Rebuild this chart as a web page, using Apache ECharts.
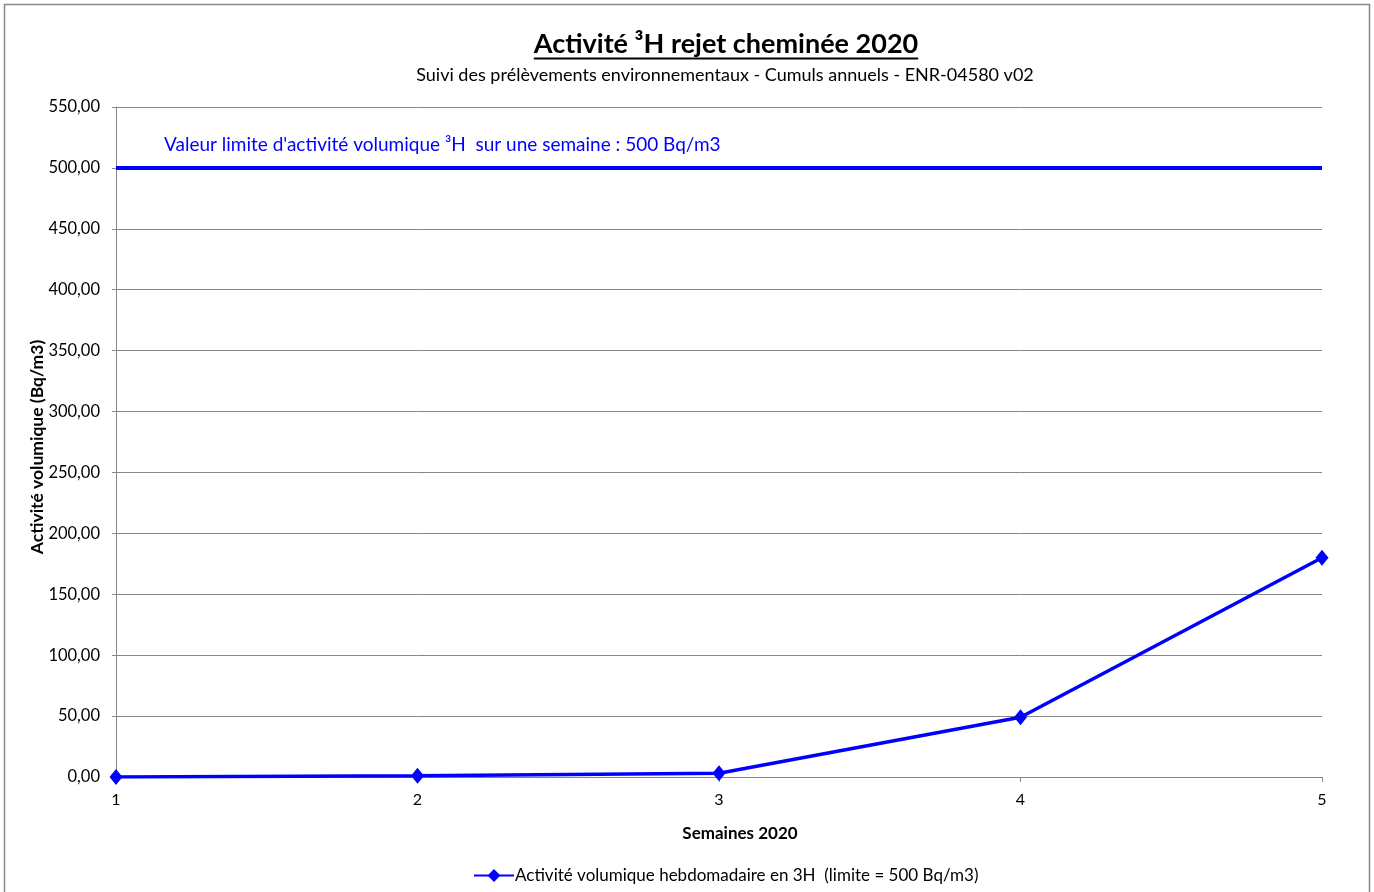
<!DOCTYPE html>
<html>
<head>
<meta charset="utf-8">
<script src="https://cdn.jsdelivr.net/npm/echarts@6/dist/echarts.min.js"></script>
<style>
html,body{margin:0;padding:0;background:#fff;}
#chart{width:1374px;height:892px;}
</style>
</head>
<body>
<div id="chart"></div>
<script>
// ---- data ----
const weeks = [1, 2, 3, 4, 5];
const activity = [0, 1, 3, 49, 180];
const limitValue = 500;
const seriesName = 'Activité volumique hebdomadaire en 3H  (limite = 500 Bq/m3)';
const titleText = 'Activité ³H rejet cheminée 2020';
const subtitleText = 'Suivi des prélèvements environnementaux - Cumuls annuels - ENR-04580 v02';
const limitLabel = "Valeur limite d'activité volumique ³H  sur une semaine : 500 Bq/m3";
const yAxisName = 'Activité volumique (Bq/m3)';
const xAxisName = 'Semaines 2020';

const FONT = 'Lato, "Open Sans", sans-serif';
const chart = echarts.init(document.getElementById('chart'));

// measure title width for underline
const cv = document.createElement('canvas').getContext('2d');
cv.font = 'bold 27px Lato';
const titleW = cv.measureText(titleText).width;
const titleCx = 726;

const option = {
  animation: false,
  backgroundColor: '#fff',
  textStyle: {fontFamily: FONT},
  grid: {left: 116, right: 52, top: 107, bottom: 115, containLabel: false},
  xAxis: {
    type: 'value', min: 1, max: 5, interval: 1,
    axisLine: {show: true, lineStyle: {color: '#868686', width: 1}},
    axisTick: {show: true, length: 5, lineStyle: {color: '#868686'}},
    axisLabel: {color: '#000', fontSize: 16, fontFamily: FONT, margin: 15},
    splitLine: {show: false}
  },
  yAxis: {
    type: 'value', min: 0, max: 550, interval: 50,
    axisLine: {show: true, lineStyle: {color: '#868686', width: 1}},
    axisTick: {show: true, length: 4, lineStyle: {color: '#868686'}},
    axisLabel: {color: '#000', fontSize: 16.5, fontFamily: FONT, margin: 16,
      formatter: v => v.toFixed(2).replace('.', ',')},
    splitLine: {show: true, lineStyle: {color: '#868686', width: 1}}
  },
  legend: {
    show: true, left: 468, top: 862,
    itemWidth: 40, itemHeight: 16, itemGap: 2,
    textStyle: {fontSize: 17, color: '#000', fontFamily: FONT, padding: [0,0,0,-4]},
    data: [{name: seriesName}]
  },
  series: [{
    name: seriesName,
    type: 'line',
    data: weeks.map((w, i) => [w, activity[i]]),
    symbol: 'diamond', symbolSize: [13, 16],
    lineStyle: {color: '#0000FF', width: 3.5},
    itemStyle: {color: '#0000FF'},
    z: 5,
    markLine: {
      silent: true, symbol: 'none',
      lineStyle: {color: '#0000FF', width: 4, type: 'solid'},
      label: {show: false},
      data: [[{coord: [weeks[0], limitValue]}, {coord: [weeks[weeks.length-1], limitValue]}]]
    }
  }],
  graphic: [
    {type: 'rect', shape: {x: 4.5, y: 4.5, width: 1365, height: 900},
     style: {fill: 'none', stroke: '#888', lineWidth: 1.5}, silent: true},
    {type: 'text', x: titleCx, y: 44,
     style: {text: titleText, font: 'bold 27px ' + FONT, fill: '#000', align: 'center', verticalAlign: 'middle'}},
    {type: 'line', shape: {x1: titleCx - titleW/2, y1: 58.5, x2: titleCx + titleW/2, y2: 58.5},
     style: {stroke: '#000', lineWidth: 1.8}},
    {type: 'text', x: 725, y: 75,
     style: {text: subtitleText, font: '18px ' + FONT, fill: '#000', align: 'center', verticalAlign: 'middle'}},
    {type: 'text', x: 164, y: 145,
     style: {text: limitLabel, font: '19px ' + FONT, fill: '#0000FF', align: 'left', verticalAlign: 'middle'}},
    {type: 'text', x: 740, y: 834,
     style: {text: xAxisName, font: 'bold 17px ' + FONT, fill: '#000', align: 'center', verticalAlign: 'middle'}},
    {type: 'text', x: 37, y: 447, rotation: Math.PI/2,
     style: {text: yAxisName, font: 'bold 17.5px ' + FONT, fill: '#000', align: 'center', verticalAlign: 'middle'}}
  ]
};
chart.setOption(option);
</script>
</body>
</html>
